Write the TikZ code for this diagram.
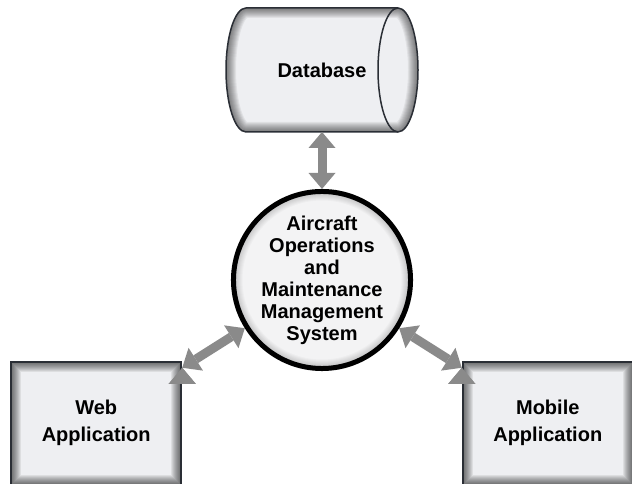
\documentclass[tikz,border=0pt]{standalone}
\usepackage{fontspec}
\setmainfont{Liberation Sans}
\usetikzlibrary{arrows.meta,positioning,backgrounds}
\definecolor{boxfill}{HTML}{EEEFF2}
\definecolor{boxline}{HTML}{2A2E35}
\definecolor{sysfill}{HTML}{F3F3F4}
\definecolor{linkgray}{HTML}{8A8A8A}

\begin{document}
\begin{tikzpicture}[x=1pt,y=1pt,>={Triangle[width=27pt,length=16pt,line width=0pt]}]
			\tikzstyle{boxshadow} = [path picture={\foreach \k [evaluate=\k as \w using 2*\k] in {1,...,10} \draw[black, opacity=0.07, line width=\w pt] (path picture bounding box.south west) rectangle (path picture bounding box.north east);}]
			\tikzstyle{dbshadow} = [path picture={\foreach \k [evaluate=\k as \w using 2*\k] in {1,...,10} \draw[black, opacity=0.06, line width=\w pt] ([xshift=20pt]path picture bounding box.north west) arc (90:270:20pt and 62pt) -- ([xshift=-20pt]path picture bounding box.south east) arc (-90:90:20pt and 62pt) -- cycle;}]
			\tikzstyle{sysshadow} = [path picture={\foreach \k [evaluate=\k as \w using 2*\k] in {1,...,8} \draw[black, opacity=0.025, line width=\w pt] (path picture bounding box.center) circle (87.5pt);}]
			\tikzstyle{system} = [circle, draw=black, line width=5pt, fill=sysfill, minimum size=175pt, inner sep=0pt, align=center, font=\bfseries\fontsize{20}{22}\selectfont, sysshadow]
			\tikzstyle{database} = [rectangle, minimum width=192pt, minimum height=124pt, inner sep=0pt, outer sep=0pt, font=\bfseries\fontsize{20}{24}\selectfont]
			\tikzstyle{dbbody} = [draw=boxline, line width=1.5pt, fill=boxfill, dbshadow]
			\tikzstyle{app} = [rectangle, draw=boxline, line width=2pt, fill=boxfill, minimum width=170pt, minimum height=123pt, align=center, font=\bfseries\fontsize{20}{27}\selectfont, boxshadow]
			\tikzstyle{link} = [draw, color=linkgray, line width=9pt, <->]
			\useasboundingbox (0,0) rectangle (632,484);
			\node [system] (aoms) at (322,204) {Aircraft\\Operations\\and\\Maintenance\\Management\\System};
			\node [database, above=57pt of aoms] (db) {Database};
			\node [app, below left=16.4pt and 75.4pt of aoms] (web) {Web\\Application};
			\node [app, below right=16.4pt and 75.4pt of aoms] (mobile) {Mobile\\Application};

			\begin{pgfonlayer}{background}
				\path [dbbody] ([xshift=20pt]db.north west) arc (90:270:20pt and 62pt) -- ([xshift=-20pt]db.south east) arc (-90:90:20pt and 62pt) -- cycle;
				\draw [boxline, line width=1.5pt] ([xshift=-20pt]db.south east) arc (270:90:20pt and 62pt);
			\end{pgfonlayer}

			\path [link] (db) edge (aoms);
			\path [link] ([yshift=-7pt]web.north east) edge (aoms.212);
			\path [link] ([yshift=-7pt]mobile.north west) edge (aoms.-32);
		\end{tikzpicture}
\end{document}
